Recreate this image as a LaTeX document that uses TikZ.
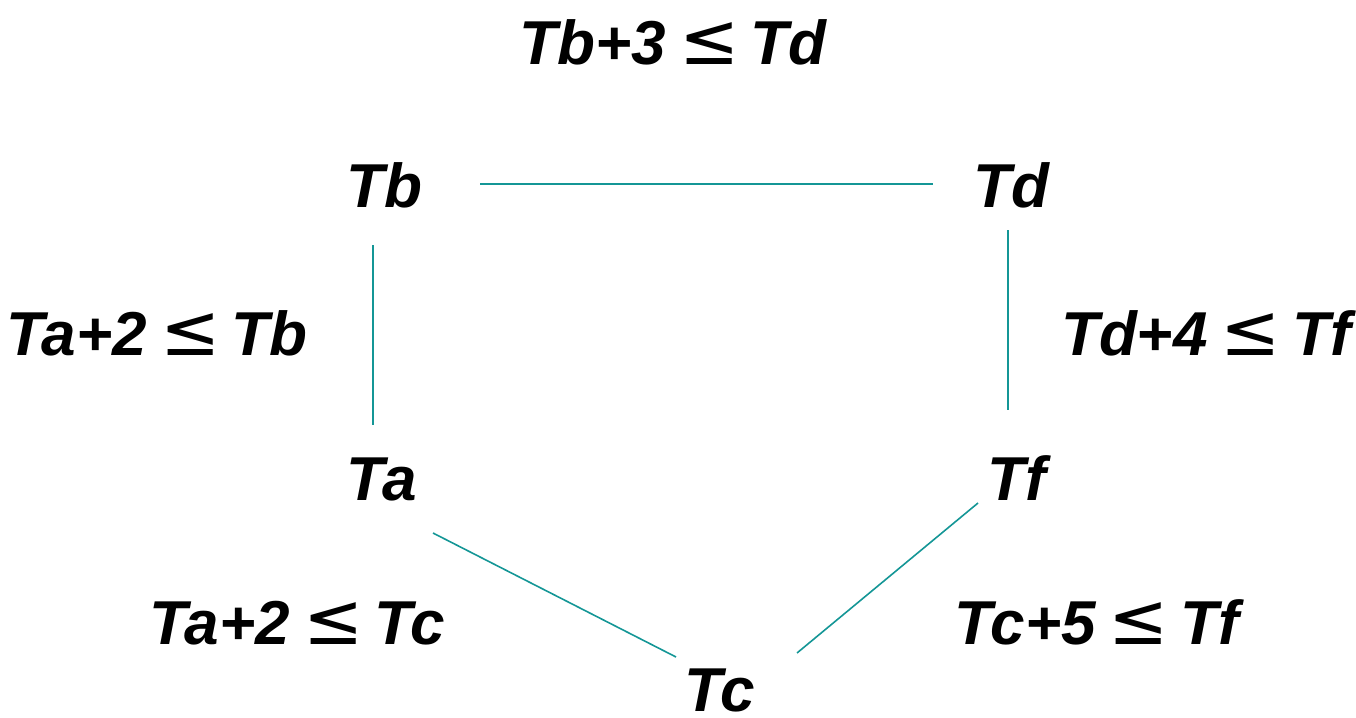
\documentclass[tikz,border=0pt]{standalone}
\usepackage{fontspec}
\setmainfont{Liberation Sans}
\newfontfamily\symfont{DejaVu Sans}
% thin slanted "less or equal" sign set between the bold terms
\newcommand{\lesym}{\hspace{-4pt}{\symfont\mdseries\itshape\fontsize{72}{72}\selectfont ≤}\hspace{-6pt}}
\begin{document}
\begin{tikzpicture}[x=1pt,y=-1pt,
  lbl/.style={anchor=base,inner sep=0pt,font=\fontsize{62}{70}\selectfont\bfseries\itshape},
  edge/.style={draw={rgb,255:red,20;green,150;blue,150},line width=1.6pt}]
\useasboundingbox (0,0) rectangle (1356,717);
% variables
\node[lbl] (Tb) at (384,207) {Tb};
\node[lbl] (Td) at (1011,207) {Td};
\node[lbl] (Ta) at (382,500) {Ta};
\node[lbl] (Tf) at (1017,500) {Tf};
\node[lbl] (Tc) at (720,711) {Tc};
% constraints
\node[lbl] (cbd) at (673,64) {Tb+3 \lesym{} Td};
\node[lbl] (cab) at (157,355) {Ta+2 \lesym{} Tb};
\node[lbl] (cdf) at (1206,355) {Td+4 \lesym{} Tf};
\node[lbl] (cac) at (297,644) {Ta+2 \lesym{} Tc};
\node[lbl] (ccf) at (1097,644) {Tc+5 \lesym{} Tf};
% edges
\draw[edge] ([shift={(96,-23)}]Tb.base) -- ([shift={(-78,-23)}]Td.base);
\draw[edge] ([shift={(-11,38)}]Tb.base) -- ([shift={(-9,-75)}]Ta.base);
\draw[edge] ([shift={(-3,23)}]Td.base) -- ([shift={(-9,-90)}]Tf.base);
\draw[edge] ([shift={(51,33)}]Ta.base) -- ([shift={(-44,-54)}]Tc.base);
\draw[edge] ([shift={(-39,3)}]Tf.base) -- ([shift={(77,-58)}]Tc.base);
\end{tikzpicture}
\end{document}
